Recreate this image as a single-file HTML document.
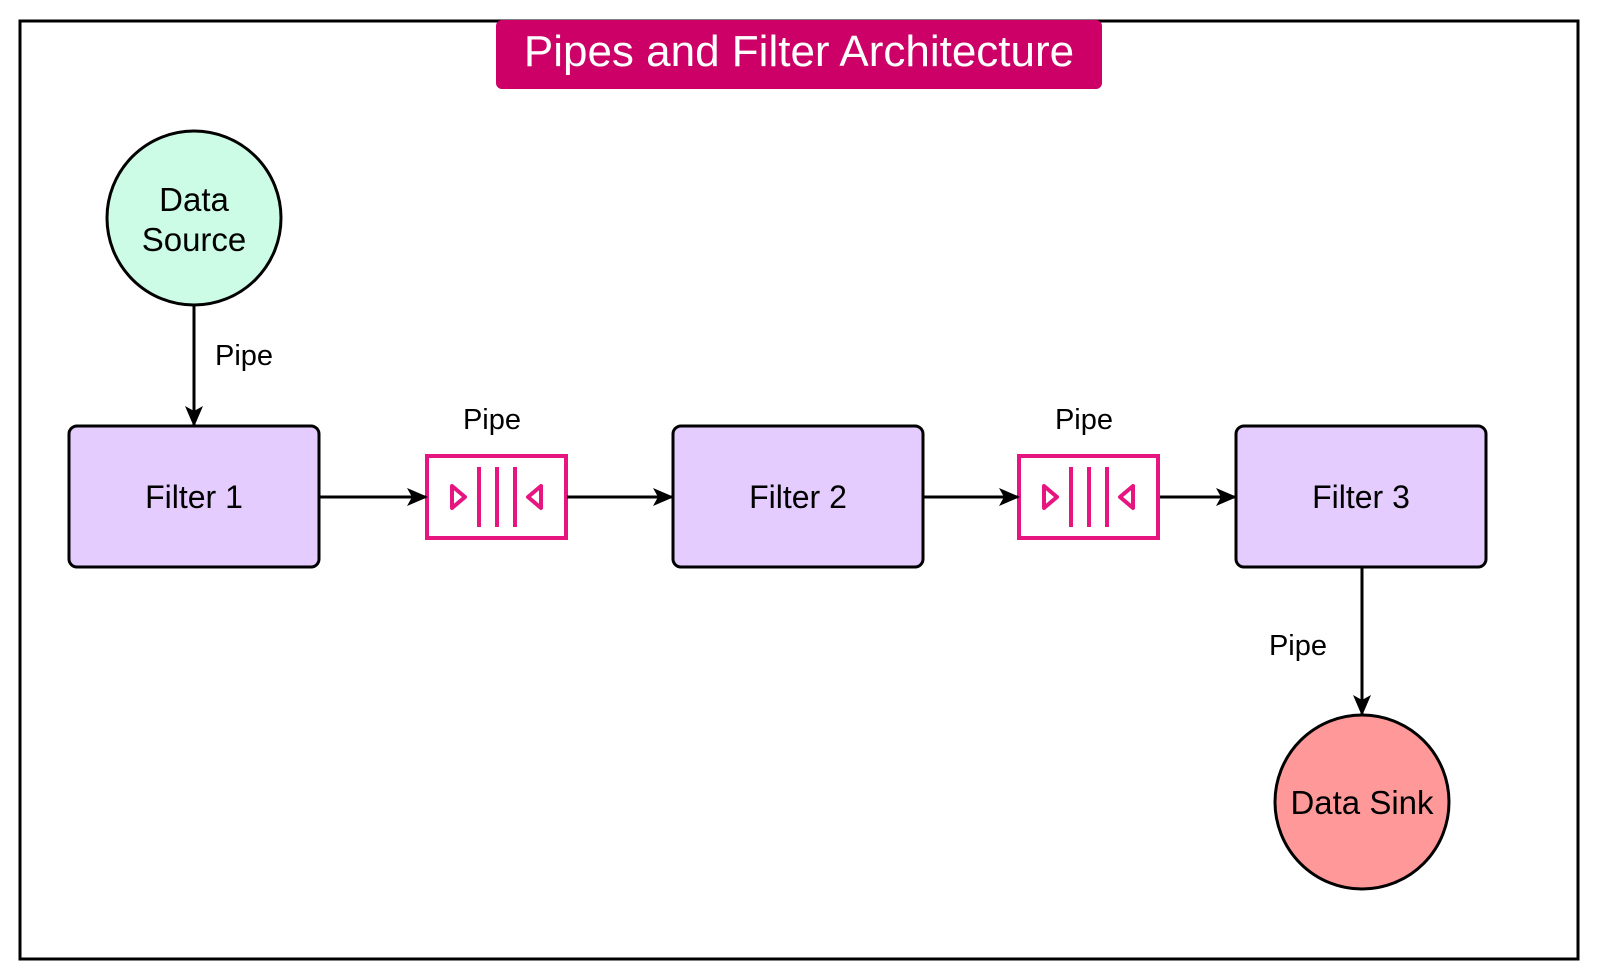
<!DOCTYPE html>
<html><head><style>
html,body{margin:0;padding:0;background:#fff;}
svg{display:block;}
text{font-family:"Liberation Sans",Arial,sans-serif;}
</style></head><body>
<svg width="1600" height="980" viewBox="0 0 1600 980" xmlns="http://www.w3.org/2000/svg">
<defs>
<marker id="a" markerWidth="22" markerHeight="22" refX="19" refY="11" orient="auto" markerUnits="userSpaceOnUse">
<path d="M0,2 L21,11 L0,20 L5,11 Z" fill="#000"/>
</marker>
</defs>
<rect x="20" y="21" width="1558" height="938" fill="#fff" stroke="#000" stroke-width="3"/>
<rect x="496" y="20" width="606" height="69" rx="6" fill="#cc0066"/>
<text x="799" y="66" font-size="44" fill="#fff" text-anchor="middle">Pipes and Filter Architecture</text>

<circle cx="194" cy="218" r="87" fill="#ccfbe6" stroke="#000" stroke-width="3"/>
<text x="194" y="211" font-size="33" text-anchor="middle">Data</text>
<text x="194" y="251" font-size="33" text-anchor="middle">Source</text>
<line x1="194" y1="305" x2="194" y2="425" stroke="#000" stroke-width="3" marker-end="url(#a)"/>
<text x="215" y="365" font-size="29">Pipe</text>

<rect x="69" y="426" width="250" height="141" rx="8" fill="#e5ccff" stroke="#000" stroke-width="3"/>
<text x="194" y="508" font-size="32" text-anchor="middle">Filter 1</text>
<rect x="673" y="426" width="250" height="141" rx="8" fill="#e5ccff" stroke="#000" stroke-width="3"/>
<text x="798" y="508" font-size="32" text-anchor="middle">Filter 2</text>
<rect x="1236" y="426" width="250" height="141" rx="8" fill="#e5ccff" stroke="#000" stroke-width="3"/>
<text x="1361" y="508" font-size="32" text-anchor="middle">Filter 3</text>

<g id="p1" fill="none" stroke="#e6157f" stroke-width="4">
<rect x="427" y="456" width="139" height="82"/>
<line x1="479" y1="467" x2="479" y2="527"/><line x1="497" y1="467" x2="497" y2="527"/><line x1="515" y1="467" x2="515" y2="527"/>
<path d="M452,486 L465,497 L452,508 Z" stroke-linejoin="round"/>
<path d="M541,486 L528,497 L541,508 Z" stroke-linejoin="round"/>
</g>
<use href="#p1" x="592" y="0"/>
<text x="492" y="429" font-size="29" text-anchor="middle">Pipe</text>
<text x="1084" y="429" font-size="29" text-anchor="middle">Pipe</text>

<line x1="320" y1="497" x2="426" y2="497" stroke="#000" stroke-width="3" marker-end="url(#a)"/>
<line x1="567" y1="497" x2="672" y2="497" stroke="#000" stroke-width="3" marker-end="url(#a)"/>
<line x1="924" y1="497" x2="1018" y2="497" stroke="#000" stroke-width="3" marker-end="url(#a)"/>
<line x1="1160" y1="497" x2="1235" y2="497" stroke="#000" stroke-width="3" marker-end="url(#a)"/>

<line x1="1362" y1="568" x2="1362" y2="714" stroke="#000" stroke-width="3" marker-end="url(#a)"/>
<text x="1298" y="655" font-size="29" text-anchor="middle">Pipe</text>
<circle cx="1362" cy="802" r="87" fill="#ff9999" stroke="#000" stroke-width="3"/>
<text x="1362" y="814" font-size="33" text-anchor="middle">Data Sink</text>
</svg>
</body></html>
